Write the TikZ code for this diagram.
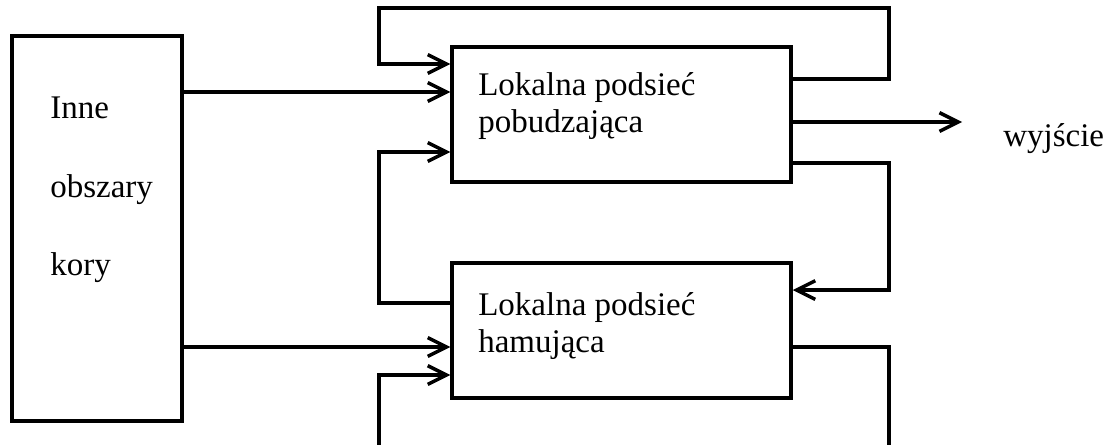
\documentclass[tikz,border=0pt]{standalone}
\usepackage{fontspec}
\setmainfont{Liberation Serif}
\usetikzlibrary{arrows.meta}
\tikzset{
	blok/.style={draw, line width=2.6pt, inner sep=0pt},
	napis/.style={anchor=base west, inner sep=0pt, font=\fontsize{24.75pt}{28pt}\selectfont},
	polacz/.style={line width=2.6pt},
	strzal/.style={polacz, -{Straight Barb[length=14pt,width=14pt]}}
}

\begin{document}
\begin{tikzpicture}[x=0.75pt, y=-0.75pt]
		%%%%% START %%%%%
		\useasboundingbox (0, 0) rectangle (1116, 444);
		
		\node[blok, minimum width=127.5pt, minimum height=288.75pt] (kora) at (97, 228.5) {};
		\node[blok, minimum width=254.25pt, minimum height=101.25pt] (pob) at (621.5, 114.5) {};
		\node[blok, minimum width=254.25pt, minimum height=101.25pt] (ham) at (621.5, 330.5) {};
		
		\node[napis] (inne) at (50, 118) {Inne};
		\node[napis] (obszary) at (50, 197) {obszary};
		\node[napis] (kory) at (50, 275) {kory};
		
		\node[napis] (pob1) at (478, 95) {Lokalna podsieć};
		\node[napis] (pob2) at (478, 132) {pobudzająca};
		\node[napis] (ham1) at (478, 315) {Lokalna podsieć};
		\node[napis] (ham2) at (478, 352) {hamująca};
		
		\coordinate (wyj) at (962, 122);
		\node[napis] (wyjscie) at (1003, 146) {wyjście};
		
		\draw[strzal] (pob.east |- 0,79) -| (889, 8) -| (379, 64) -- (pob.west |- 0,64);
		\draw[strzal] (kora.east |- 0,92) -- (pob.west |- 0,92);
		\draw[strzal] (ham.west |- 0,303) -| (379, 152) -- (pob.west |- 0,152);
		\draw[strzal] (pob.east |- wyj) -- (wyj);
		\draw[strzal] (pob.east |- 0,163) -| (889, 290) -- (ham.east |- 0,290);
		\draw[strzal] (kora.east |- 0,347) -- (ham.west |- 0,347);
		\draw[strzal] (ham.east |- 0,347) -| (889, 452) -| (379, 375) -- (ham.west |- 0,375);
		%%%%% END %%%%%
	\end{tikzpicture}
\end{document}
